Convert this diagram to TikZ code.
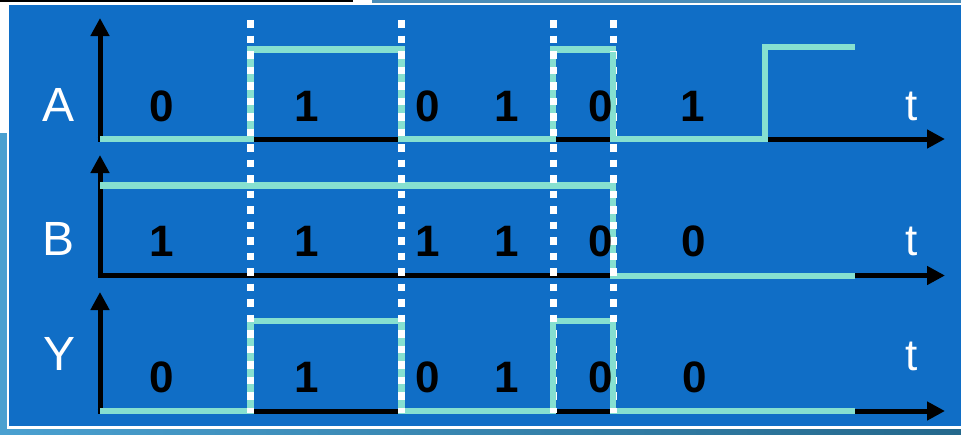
\documentclass[tikz,border=0pt]{standalone}
\usepackage{fontspec}
\setmainfont{Liberation Sans}
\usetikzlibrary{arrows.meta}
\definecolor{bgblue}{RGB}{16,110,198}
\definecolor{sig}{RGB}{134,224,208}
\definecolor{lightstrip}{RGB}{74,160,208}
\definecolor{darkstrip}{RGB}{36,104,140}
\definecolor{topstrip}{RGB}{74,140,184}
\tikzset{
  axis/.style={line width=5pt,black,-{Triangle[length=18pt,width=18pt]}},
  signal/.style={line width=6.5pt,sig,line join=miter,line cap=butt},
  guide/.style={line width=7pt,white,dash pattern=on 7.5pt off 8pt},
  rowlabel/.style={anchor=base,text=white,font=\fontsize{48}{48}\selectfont,inner sep=0pt},
  tlabel/.style={anchor=base,text=white,font=\fontsize{44}{44}\selectfont,inner sep=0pt},
  bit/.style={anchor=base,text=black,font=\fontsize{44}{44}\selectfont\bfseries,inner sep=0pt}
}
\begin{document}
\begin{tikzpicture}[x=1pt,y=-1pt]
\useasboundingbox (0,0) rectangle (961,434);
% frame
\fill[white] (0,0) rectangle (961,434);
\fill[lightstrip] (0,133) rectangle (7,434);
\shade[left color=lightstrip,right color=darkstrip] (0,429) rectangle (961,434);
\fill[topstrip] (372,0) rectangle (961,2.5);
\fill[black] (0,0) rectangle (353,2);
\fill[bgblue] (9,5) rectangle (961,426);
% axes
\coordinate (oA) at (100,139);
\coordinate (oB) at (100,275.5);
\coordinate (oY) at (100,411);
\coordinate (vA) at (100,18);
\coordinate (vB) at (100,155);
\coordinate (vY) at (100,292);
\coordinate (hA) at (945,139);
\coordinate (hB) at (945,275.5);
\coordinate (hY) at (945,411);
\draw[axis] ([yshift=2.5pt]oA) -- (vA);
\draw[axis] ([xshift=-2.5pt]oA) -- (hA);
\draw[axis] ([yshift=2.5pt]oB) -- (vB);
\draw[axis] ([xshift=-2.5pt]oB) -- (hB);
\draw[axis] ([yshift=2.5pt]oY) -- (vY);
\draw[axis] ([xshift=-2.5pt]oY) -- (hY);
% signals
\draw[signal] (100,139) -- (250.5,139) -- (250.5,49.5) -- (401.5,49.5) -- (401.5,139) -- (553,139) -- (553,49.5) -- (613,49.5) -- (613,139) -- (765,139) -- (765,47) -- (855,47);
\draw[signal] (100,185.5) -- (613,185.5) -- (613,276) -- (855,276);
\draw[signal] (100,411) -- (250.5,411) -- (250.5,321) -- (401.5,321) -- (401.5,411) -- (553,411) -- (553,321) -- (613,321) -- (613,411) -- (855,411);
% dotted guides
\foreach \x/\n in {250.5/g1,401.5/g2,553/g3,613/g4}{
  \coordinate (\n t) at (\x,20);
  \coordinate (\n b) at (\x,413);
  \draw[guide] (\n t) -- (\n b);
}
% segments drawn above the guides
\draw[signal] (613,52) -- (613,136);
\draw[signal] (553,324) -- (553,408);
\draw[signal] (613,324) -- (613,408);
% row labels
\node[rowlabel] (lA) at (59,121.5) {A};
\node[rowlabel] (lB) at (59,255) {B};
\node[rowlabel] (lY) at (60,370) {Y};
\node[tlabel] (tA) at (912,120) {t};
\node[tlabel] (tB) at (912,255) {t};
\node[tlabel] (tY) at (912,370) {t};
% bits
\foreach \x/\v [count=\i] in {162/0,307/1,428/0,507/1,601/0,693/1}{
  \node[bit] (a\i) at (\x,121) {\v};
}
\foreach \x/\v [count=\i] in {162/1,307/1,428/1,507/1,601/0,694/0}{
  \node[bit] (b\i) at (\x,256) {\v};
}
\foreach \x/\v [count=\i] in {162/0,307/1,428/0,507/1,601/0,695/0}{
  \node[bit] (y\i) at (\x,392) {\v};
}
\end{tikzpicture}
\end{document}
